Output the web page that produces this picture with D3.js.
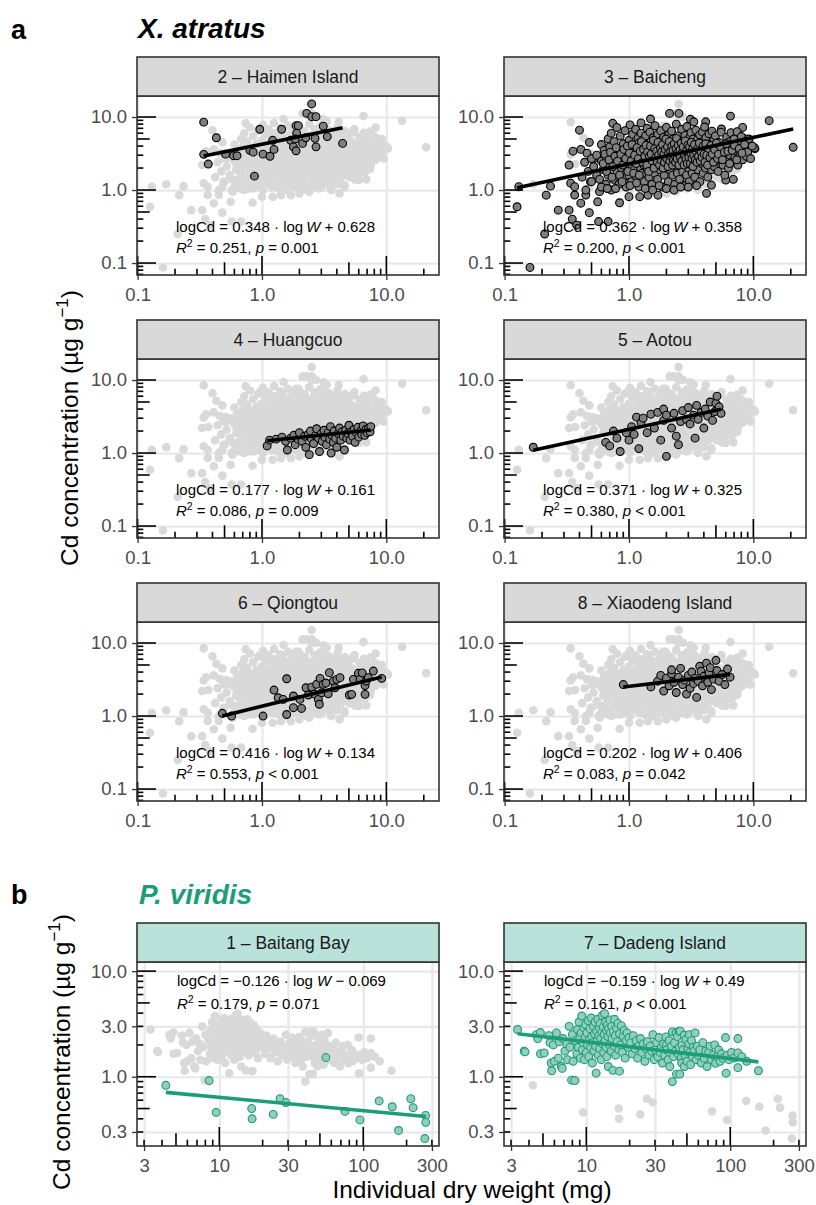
<!DOCTYPE html>
<html><head><meta charset="utf-8">
<script src="https://cdn.jsdelivr.net/npm/d3@7"></script>
<style>body{margin:0;background:#fff}svg{display:block}</style>
</head><body><svg id="c" width="816" height="1205"></svg>
<script>
// ---------------- DATA ----------------
// [individual dry weight, Cd concentration]
const haimen = [[0.34,8.5],[0.34,3.08],[0.37,2.27],[0.43,5.2],[0.51,3.1],[0.59,2.95],[0.63,2.95],[0.80,3.5],[0.85,3.3],[0.87,1.55],[0.96,6.8],[1.02,3.1],[1.16,2.9],[1.22,4.8],[1.25,3.6],[1.44,6.8],[1.70,4.8],[1.79,3.9],[1.88,3.45],[1.88,7.6],[1.96,7.6],[1.90,6.0],[2.12,4.35],[2.29,11.2],[2.51,15.1],[2.51,10.1],[2.72,10.1],[2.67,5.1],[2.72,3.9],[3.11,7.5],[3.35,5.4],[4.45,4.35],[2.25,5.2],[1.85,5.0]];
const baicheng = [[0.126,0.59],[0.16,0.087],[0.13,1.11],[0.21,0.25],[0.216,0.85],[0.234,1.13],[0.27,0.53],[0.33,0.53],[0.35,0.40],[0.38,0.33],[0.33,2.2],[0.34,1.24],[0.355,3.4],[0.40,6.6],[0.41,3.6],[0.366,1.11],[0.366,0.855],[0.41,0.66],[0.45,0.855],[0.48,0.49],[0.52,2.7],[0.56,0.69],[0.57,0.37],[0.68,0.37],[0.74,8.2],[0.84,0.67],[0.98,1.24],[1.0,0.81],[1.22,0.81],[1.42,0.85],[1.49,9.4],[1.71,0.85],[2.12,11.2],[2.52,11.2],[2.86,1.45],[3.12,9.3],[3.48,1.37],[4.14,8.6],[4.2,0.90],[4.6,1.17],[5.54,6.85],[6.0,1.37],[6.55,10.3],[6.87,2.7],[8.2,7.2],[8.4,5.1],[10.3,3.7],[10.2,3.8],[13.4,8.9],[20.9,3.85],
[0.42,1.5],[0.44,2.4],[0.45,1.0],[0.46,3.2],[0.47,1.8],[0.48,4.5],[0.49,1.3],[0.5,2.7],
[0.5,1.3],[0.52,2.1],[0.55,1.6],[0.55,3.0],[0.58,0.95],[0.6,2.5],[0.6,4.2],[0.62,1.9],[0.63,3.5],[0.65,1.2],[0.66,2.8],[0.68,5.0],[0.68,1.6],[0.7,2.2],[0.7,3.9],[0.72,1.0],[0.72,6.0],
[0.75,1.4],[0.75,2.6],[0.76,4.6],[0.78,3.2],[0.8,1.8],[0.8,7.2],[0.82,2.3],[0.83,1.2],[0.85,3.7],[0.85,5.5],[0.87,2.0],[0.88,2.9],[0.9,1.5],[0.9,4.3],[0.92,2.5],[0.93,6.5],[0.95,3.3],[0.95,1.1],[0.96,2.0],
[1.0,1.6],[1.0,2.8],[1.0,4.8],[1.02,7.8],[1.03,3.6],[1.05,2.2],[1.05,1.3],[1.07,5.8],[1.08,3.1],[1.1,1.9],[1.1,4.1],[1.12,2.6],[1.13,6.8],[1.15,1.5],[1.15,3.4],[1.17,2.3],[1.18,5.1],[1.2,1.1],[1.2,2.9],[1.2,4.4],[1.22,3.8],[1.24,2.0],[1.25,8.3],[1.25,6.0],[1.27,2.6],[1.28,1.7],[1.3,3.2],[1.3,4.9],
[1.32,2.2],[1.33,1.3],[1.35,3.7],[1.36,5.5],[1.38,2.7],[1.4,1.9],[1.4,7.0],[1.42,4.2],[1.43,3.0],[1.45,2.4],[1.45,1.5],[1.47,6.2],[1.48,3.5],[1.5,2.0],[1.5,4.6],[1.52,2.8],[1.53,1.2],[1.55,3.9],[1.56,5.2],[1.58,2.3],[1.6,3.3],[1.6,1.7],[1.62,7.6],[1.63,2.6],[1.65,4.4],[1.66,3.0],[1.68,2.1],[1.7,5.8],[1.7,1.4],[1.72,3.6],[1.74,2.5],[1.75,4.0],[1.77,1.9],[1.78,3.2],[1.8,6.5],[1.8,2.8],
[1.82,4.8],[1.84,2.2],[1.85,1.1],[1.87,3.5],[1.9,2.6],[1.9,5.3],[1.92,1.6],[1.94,3.9],[1.95,3.0],[1.97,2.0],[2.0,4.4],[2.0,7.2],[2.02,2.4],[2.05,3.3],[2.07,1.3],[2.1,5.8],[2.1,2.8],[2.12,3.7],[2.15,1.9],[2.17,4.2],[2.2,2.3],[2.2,6.4],[2.22,3.1],[2.25,1.6],[2.27,5.0],[2.3,2.7],[2.3,3.8],[2.33,1.2],[2.35,4.6],[2.38,2.1],[2.4,3.4],[2.4,8.0],[2.42,2.9],[2.45,1.7],[2.47,5.5],[2.5,2.5],[2.5,3.9],
[2.55,1.4],[2.55,4.8],[2.6,3.1],[2.62,2.2],[2.65,6.8],[2.68,3.6],[2.7,1.8],[2.72,2.7],[2.75,4.3],[2.78,1.15],[2.8,3.3],[2.82,5.6],[2.85,2.4],[2.88,3.9],[2.9,1.6],[2.92,7.4],[2.95,2.9],[3.0,4.7],[3.0,2.0],[3.02,3.4],[3.05,1.3],[3.08,5.2],[3.1,2.6],[3.12,3.7],[3.15,6.1],[3.18,2.2],[3.2,4.1],[3.22,1.7],[3.25,3.0],[3.28,5.0],[3.3,2.5],[3.32,8.6],[3.35,3.5],[3.38,1.5],[3.4,4.4],[3.42,2.8],[3.45,6.6],[3.48,2.1],
[3.5,3.2],[3.55,4.9],[3.6,1.9],[3.6,2.6],[3.65,3.8],[3.7,5.7],[3.72,1.3],[3.75,3.0],[3.8,4.3],[3.85,2.3],[3.9,6.2],[3.92,3.4],[3.95,1.7],[4.0,2.8],[4.0,4.7],[4.05,7.3],[4.1,3.6],[4.12,2.0],[4.15,5.2],[4.2,2.6],[4.25,3.9],[4.3,1.5],[4.35,3.1],[4.4,5.9],[4.45,2.3],[4.5,4.2],[4.55,3.3],[4.6,1.9],[4.65,6.4],[4.7,2.7],[4.75,3.7],[4.8,4.9],[4.85,2.1],[4.9,3.0],[4.95,5.5],[5.0,2.5],
[5.1,3.5],[5.2,1.8],[5.3,4.5],[5.4,2.9],[5.5,6.2],[5.6,3.2],[5.7,2.2],[5.8,4.0],[5.9,1.6],[6.0,3.6],[6.1,5.3],[6.2,2.6],[6.3,2.0],[6.4,4.6],[6.5,3.0],[6.6,6.1],[6.7,2.4],[6.8,3.8],[6.9,1.4],[7.0,5.0],[7.1,2.8],[7.2,3.4],[7.4,6.3],[7.5,2.2],[7.6,4.2],[7.8,3.0],[8.0,5.4],[8.2,2.6],[8.4,3.6],[8.6,4.6],[8.8,2.9],[9.0,3.3],[9.2,5.0],[9.5,2.7],[9.8,4.0],
[0.62,2.3],[0.64,3.1],[0.66,1.8],[0.69,2.6],[0.71,3.3],[0.73,1.5],[0.74,2.1],[0.77,2.9],[0.79,3.8],[0.81,2.5],[0.84,1.6],[0.86,3.1],[0.89,2.2],[0.91,3.6],[0.94,2.7],[0.97,4.0],[0.98,1.8],[1.01,3.2],[1.04,2.5],[1.06,4.2],[1.09,1.7],[1.11,3.0],[1.14,2.3],[1.16,3.8],[1.19,2.7],[1.21,1.6],[1.23,3.4],[1.26,4.6],[1.29,2.4],[1.31,3.6],[1.34,2.9],[1.37,4.1],[1.39,2.2],[1.41,3.3],[1.44,1.8],[1.46,2.9],[1.49,4.0],[1.51,3.1],[1.54,2.5],[1.57,4.8],[1.59,2.0],[1.61,3.7],[1.64,2.8],[1.67,3.4],[1.69,2.4],[1.71,4.5],[1.73,3.0],[1.76,2.2],[1.79,3.8],[1.81,2.6],[1.83,3.3],[1.86,4.2],[1.88,2.0],[1.91,3.1],[1.93,2.4],[1.96,3.6],[1.98,5.0],[2.01,2.7],[2.04,3.9],[2.06,2.1],[2.08,3.2],[2.11,4.6],[2.13,2.5],[2.16,3.4],[2.18,2.9],[2.21,4.0],[2.24,2.2],[2.26,3.5],[2.28,2.6],[2.31,4.3],[2.34,3.0],[2.37,2.4],[2.39,3.7],[2.41,5.1],[2.44,2.7],[2.46,3.2],[2.49,4.1],[2.52,2.2],[2.57,3.5],[2.59,2.8],[2.63,4.4],[2.66,2.5],[2.69,3.3],[2.73,3.9],[2.77,2.2],[2.79,3.0],[2.83,4.7],[2.87,2.7],[2.91,3.5],[2.94,2.3],[2.97,4.1],[3.03,2.8],[3.07,3.9],[3.11,2.3],[3.14,3.2],[3.17,4.5],[3.21,2.7],[3.24,3.6],[3.27,2.1],[3.31,3.0],[3.36,4.2],[3.41,2.6],[3.44,3.4],[3.52,2.4],[3.57,3.7],[3.62,2.9],[3.68,4.4],[3.74,2.5],[3.81,3.3],[3.87,2.8],[3.94,4.0],[4.02,3.1],[4.08,2.4],[4.14,4.3],[4.22,3.0],[4.28,2.2],[4.38,3.7],[4.48,2.8],[4.58,4.1],[4.68,3.1],[4.78,2.4],[4.88,3.6],[5.05,4.4],[5.15,2.7],[5.25,3.1],[5.45,3.9],[5.65,2.6],[5.85,3.3],[6.05,4.3],[6.25,3.4],[6.45,2.3],[6.75,3.5],[7.05,4.1],[7.35,2.6],[7.7,3.7],[8.1,3.2],[8.5,4.2],[0.58,1.4],[0.6,1.1],[0.67,1.05],[0.78,1.05],[0.88,1.3],[1.02,1.15],[1.15,1.25],[1.35,1.05],[1.55,1.0],[1.75,1.15],[2.0,1.05],[2.3,1.0],[2.6,1.1],[3.0,1.1],[3.5,1.15]];
const huangcuo = [[1.1,1.25],[1.15,1.5],[1.3,1.55],[1.45,1.65],[1.55,1.45],[1.6,1.1],[1.7,1.6],[1.8,1.75],[1.85,1.3],[1.95,1.55],[2.0,1.9],[2.1,1.45],[2.2,1.7],[2.25,1.2],[2.35,1.8],[2.4,0.95],[2.45,2.0],[2.5,1.55],[2.6,1.35],[2.7,1.75],[2.75,2.15],[2.85,1.6],[2.9,1.05],[3.0,1.85],[3.05,1.45],[3.15,2.05],[3.2,1.65],[3.3,1.3],[3.4,1.9],[3.5,1.55],[3.55,2.3],[3.6,1.0],[3.65,1.75],[3.75,1.4],[3.8,2.0],[3.9,1.6],[4.0,1.2],[4.1,1.85],[4.2,2.2],[4.3,1.5],[4.4,1.95],[4.5,1.7],[4.6,1.1],[4.7,2.05],[4.8,1.6],[4.9,1.85],[5.0,2.4],[5.1,1.5],[5.2,1.95],[5.35,1.7],[5.5,2.1],[5.6,1.4],[5.75,1.9],[5.9,2.25],[6.0,1.65],[6.2,2.0],[6.35,1.8],[6.5,2.35],[6.7,1.75],[6.85,2.1],[7.0,1.9],[7.2,2.2],[7.4,1.95],[7.5,2.3]];
const aotou = [[0.17,1.2],[0.65,1.4],[0.7,1.25],[0.75,2.0],[0.8,1.6],[0.85,1.05],[0.95,1.9],[1.0,1.5],[1.05,2.3],[1.1,1.8],[1.15,3.1],[1.2,1.15],[1.25,2.6],[1.3,3.0],[1.4,1.9],[1.5,3.4],[1.6,2.2],[1.7,3.6],[1.8,1.5],[1.9,2.8],[1.9,4.0],[2.0,3.3],[2.0,0.9],[2.2,2.2],[2.3,3.5],[2.4,1.7],[2.5,1.3],[2.6,2.7],[2.7,3.8],[2.9,2.9],[3.0,4.2],[3.1,2.5],[3.3,3.3],[3.4,1.6],[3.5,4.5],[3.6,2.9],[3.8,3.6],[4.0,2.2],[4.1,4.0],[4.3,3.2],[4.5,5.0],[4.7,2.8],[4.9,3.7],[5.0,4.8],[5.1,6.0],[5.3,4.3],[5.5,3.5]];
const qiongtou = [[0.48,1.09],[0.57,1.0],[1.02,1.0],[1.25,2.27],[1.35,1.78],[1.48,1.69],[1.58,3.24],[1.58,1.05],[1.79,1.88],[1.79,1.30],[2.08,1.27],[2.02,1.69],[2.26,2.44],[2.36,1.94],[2.51,2.49],[2.65,2.0],[2.75,2.72],[2.84,1.69],[2.89,1.45],[2.93,3.28],[3.02,2.08],[3.11,2.72],[3.27,2.83],[3.41,2.02],[3.48,3.93],[3.75,3.02],[3.86,2.44],[3.99,3.18],[4.24,3.35],[5.04,1.94],[5.26,1.98],[5.43,3.18],[5.96,3.85],[6.14,3.18],[6.4,3.9],[6.74,2.62],[6.87,3.02],[6.74,1.98],[7.16,3.35],[7.86,4.13],[9.18,3.28]];
const xiaodeng = [[0.9,2.7],[1.5,2.5],[1.7,3.0],[1.8,3.6],[1.9,2.2],[2.0,3.3],[2.1,2.6],[2.2,3.8],[2.2,4.3],[2.3,2.9],[2.4,2.1],[2.5,3.4],[2.6,4.5],[2.7,2.7],[2.8,3.1],[2.9,2.0],[3.0,3.6],[3.1,2.4],[3.2,4.0],[3.3,2.8],[3.4,3.3],[3.5,1.8],[3.6,3.0],[3.7,4.8],[3.8,4.1],[3.9,2.6],[4.0,3.5],[4.2,5.3],[4.3,2.9],[4.4,3.9],[4.5,4.6],[4.6,2.3],[4.8,3.2],[5.0,5.8],[5.1,4.2],[5.3,3.0],[5.6,3.7],[5.9,2.7],[6.2,4.4],[6.5,3.4]];
const baitang = [[4.25,0.83],[8.5,0.92],[9.5,0.46],[16.8,0.50],[16.9,0.40],[23.7,0.44],[26.4,0.62],[29,0.57],[55,1.52],[74.7,0.47],[94.8,0.39],[129,0.59],[159,0.52],[176,0.31],[214,0.62],[222,0.51],[271,0.43],[272,0.37],[268,0.26]];
const dadeng = [[3.33,2.8],[3.7,1.75],[3.75,1.72],[4.5,2.5],[4.6,2.3],[4.8,1.65],[4.8,2.62],[5.1,1.68],[5.5,2.45],[5.6,2.1],[5.7,1.35],[5.75,1.14],[5.9,2.0],[6.0,1.4],[6.2,2.6],[6.4,1.5],[6.5,2.15],[6.7,1.25],[6.8,1.2],[6.9,2.3],[7.1,1.75],[7.3,2.05],[7.4,1.45],[7.6,3.0],[7.7,1.9],[7.9,0.93],[8.0,2.5],[8.1,1.4],[8.3,0.92],[8.4,2.2],
[8.6,1.65],[8.7,2.8],[8.8,1.9],[8.9,3.3],[9.0,2.3],[9.1,1.5],[9.2,2.6],[9.3,3.76],[9.4,1.8],[9.5,2.1],[9.6,2.9],[9.7,1.45],[9.8,2.4],[9.9,3.1],[10.0,1.7],[10.1,2.6],[10.2,2.0],[10.3,3.4],[10.4,1.55],[10.5,2.25],[10.6,2.85],[10.7,1.9],[10.8,3.6],[10.9,2.4],[11.0,1.35],[11.1,2.1],[11.2,3.0],[11.3,1.75],[11.4,2.55],[11.5,3.3],[11.6,1.95],[11.7,1.08],[11.8,2.7],[11.9,2.2],[12.0,3.5],[12.1,1.6],[12.2,2.45],[12.3,2.9],[12.4,1.85],[12.5,3.2],[12.6,2.3],[12.7,1.45],[12.8,2.65],[12.9,3.8],[13.0,2.05],[13.1,2.95],[13.2,1.7],[13.3,2.5],[13.4,3.96],[13.5,2.2],[13.6,3.3],[13.7,1.9],[13.8,2.75],[13.9,1.55],[14.0,3.1],[14.1,2.4],[14.2,1.25],[14.3,2.85],[14.5,2.0],[14.6,3.45],[14.7,2.6],[14.9,1.75],[15.0,3.0],[15.1,2.3],[15.3,1.15],[15.4,2.7],[15.6,1.95],[15.7,3.5],[15.9,2.45],[16.0,1.6],[16.2,2.9],[16.4,2.15],[16.6,3.2],[16.8,1.8],[17.0,1.13],[17.0,2.55],[17.3,2.0],[17.5,3.05],[17.8,1.7],[18.0,2.4],[18.3,2.75],[18.6,1.5],[18.9,2.2],[19.2,2.6],[19.5,1.9],[19.8,2.35],
[20.3,2.1],[20.8,1.65],[21.2,2.45],[21.7,1.85],[22.2,2.2],[22.7,1.5],[23.2,1.95],[23.8,2.3],[24.3,1.7],[24.9,2.05],[25.5,1.4],[26.0,1.85],[26.6,2.15],[27.2,1.6],[27.8,1.95],[28.4,1.75],[29.0,2.5],[29.6,1.45],[30.2,1.8],[30.8,2.1],[31.4,1.55],[32.0,2.35],[32.6,1.7],[33.2,1.9],[33.8,1.35],
[34.4,2.05],[35.0,1.6],[35.7,2.38],[36.0,2.0],[36.3,1.8],[37.0,1.45],[37.6,2.2],[38.0,1.25],[38.3,1.7],[39.0,1.95],[39.6,2.66],[39.6,0.9],[40.3,1.55],[41.0,2.1],[41.6,1.75],[42.0,2.6],[42.3,1.06],[42.9,2.4],[43.6,1.65],[44.0,2.7],[44.3,1.9],[44.6,1.06],[45.0,2.7],[45.6,1.5],[46.0,1.35],[46.3,2.0],[47.0,1.8],[47.8,2.47],[48.0,1.25],[48.5,1.6],[49.2,2.25],[50.0,1.4],[50.7,1.85],[51.5,2.05],[52.0,2.5],[52.3,1.7],[53.0,1.3],[53.8,2.2],[54.6,1.55],[55.4,1.9],[56.2,1.75],[57.0,2.6],[58.0,1.45],[59.0,1.95],[60.0,1.6],
[61.5,1.8],[63.0,1.35],[64.5,2.1],[66.0,1.5],[67.5,1.75],[69.0,1.25],[71.0,1.72],[72.5,1.95],[74.0,1.45],[76.0,1.6],[78.0,2.0],[79.0,1.34],[81.0,1.55],[83.0,1.8],[85.0,1.4],[87.0,1.65],[89.0,1.5],[92.7,2.35],[93.5,1.08],[95.0,1.6],[98.0,1.45],[102.0,1.7],[106.0,1.5],[113.0,2.3],[113.0,1.68],[113.0,1.22],[120.0,1.55],[130.0,1.4],[157.0,1.14]];

const siteNamesA = ["2 – Haimen Island","3 – Baicheng","4 – Huangcuo","5 – Aotou","6 – Qiongtou","8 – Xiaodeng Island"];
const slopesA = [0.348,0.362,0.177,0.371,0.416,0.202];
const interceptsA = [0.628,0.358,0.161,0.325,0.134,0.406];
const r2A = ["0.251","0.200","0.086","0.380","0.553","0.083"];
const pRelA = ["=","<","=","<","<","="];
const pValA = ["0.001","0.001","0.009","0.001","0.001","0.042"];

const siteNamesB = ["1 – Baitang Bay","7 – Dadeng Island"];
const slopesB = [-0.126,-0.159];
const interceptsB = [-0.069,0.49];
const r2B = ["0.179","0.161"];
const pRelB = ["=","<"];
const pValB = ["0.071","0.001"];

const xBreaksA = [0.1,1,10], xLabelsA = ["0.1","1.0","10.0"];
const yBreaksA = [0.1,1,10], yLabelsA = ["0.1","1.0","10.0"];
const xBreaksB = [3,10,30,100,300], xLabelsB = ["3","10","30","100","300"];
const yBreaksB = [0.3,1,3,10], yLabelsB = ["0.3","1.0","3.0","10.0"];

// ---------------- LAYOUT ----------------
const FONT = "'Liberation Sans', Arial, Helvetica, sans-serif";
const TEAL = "#1b9e77";
const svg = d3.select("#c").attr("font-family", FONT);
const colX = [137, 504], panelW = 302, stripH = 39;
const fmt = v => (v < 0 ? "\u2212" : "") + String(Math.abs(v));

function drawPanel(o) {
  const g = svg.append("g");
  const pTop = o.top + stripH, pBot = pTop + o.plotH, L = o.left, R = o.left + panelW;
  const x = d3.scaleLog().domain(o.xDomain).range([L, R]);
  const y = d3.scaleLog().domain(o.yDomain).range([pBot, pTop]);
  svg.append("clipPath").attr("id", "clip" + o.id).append("rect")
    .attr("x", L).attr("y", pTop).attr("width", panelW).attr("height", o.plotH);
  // grid
  const gx = g.append("g").attr("transform", `translate(0,${pBot})`)
    .call(d3.axisBottom(x).tickValues(o.xBreaks).tickSize(-o.plotH).tickFormat(""));
  const gy = g.append("g").attr("transform", `translate(${L},0)`)
    .call(d3.axisLeft(y).tickValues(o.yBreaks).tickSize(-panelW).tickFormat(""));
  [gx, gy].forEach(a => { a.select(".domain").remove(); a.selectAll("line").attr("stroke", "#e8e8e8").attr("stroke-width", 2.2); });
  // points
  const pg = g.append("g").attr("clip-path", `url(#clip${o.id})`);
  pg.selectAll(null).data(o.bg).enter().append("circle")
    .attr("cx", d => x(d[0])).attr("cy", d => y(d[1])).attr("r", 4.3).attr("fill", "#d9d9d9");
  pg.selectAll(null).data(o.pts).enter().append("circle")
    .attr("cx", d => x(d[0])).attr("cy", d => y(d[1])).attr("r", 3.9)
    .attr("fill", o.ptFill).attr("stroke", o.ptStroke).attr("stroke-width", 1.1);
  // regression line
  const ext = d3.extent(o.pts, d => d[0]);
  const lineData = ext.map(w => [w, Math.pow(10, o.slope * Math.log10(w) + o.intercept)]);
  pg.append("path").datum(lineData)
    .attr("d", d3.line().x(d => x(d[0])).y(d => y(d[1])))
    .attr("stroke", o.lineColor).attr("stroke-width", 3.6).attr("fill", "none");
  // annotation
  const ax0 = L + o.annDx;
  const t1 = g.append("text").attr("x", ax0).attr("y", pTop + o.annDy1).attr("font-size", 15).attr("fill", "#000");
  t1.append("tspan").text(`logCd = ${fmt(o.slope)} \u00B7 log${o.logSpace ? " " : "\u2009"}`);
  t1.append("tspan").attr("font-style", "italic").text("W");
  t1.append("tspan").text(` ${o.intercept < 0 ? "\u2212" : "+"} ${String(Math.abs(o.intercept))}`);
  const t2 = g.append("text").attr("x", ax0).attr("y", pTop + o.annDy2).attr("font-size", 15).attr("fill", "#000");
  t2.append("tspan").attr("font-style", "italic").text("R");
  t2.append("tspan").attr("font-size", 10.5).attr("dy", -6).text("2");
  t2.append("tspan").attr("dy", 6).text(` = ${o.r2}, `);
  t2.append("tspan").attr("font-style", "italic").text("p");
  t2.append("tspan").text(` ${o.pRel} ${o.pVal}`);
  // log ticks (annotation_logticks style)
  const tickLen = t => { const m = Math.round(t / Math.pow(10, Math.floor(Math.log10(t) + 1e-9))); return m === 1 ? 19 : m === 5 ? 12.7 : 6.3; };
  g.selectAll(null).data(x.ticks()).enter().append("line")
    .attr("x1", d => x(d)).attr("x2", d => x(d)).attr("y1", pBot).attr("y2", d => pBot - tickLen(d))
    .attr("stroke", "#000").attr("stroke-width", 1.6);
  g.selectAll(null).data(y.ticks()).enter().append("line")
    .attr("y1", d => y(d)).attr("y2", d => y(d)).attr("x1", L).attr("x2", d => L + tickLen(d))
    .attr("stroke", "#000").attr("stroke-width", 1.6);
  // border
  g.append("rect").attr("x", L).attr("y", pTop).attr("width", panelW).attr("height", o.plotH)
    .attr("fill", "none").attr("stroke", "#333").attr("stroke-width", 1.6);
  // axes
  const axB = g.append("g").attr("transform", `translate(0,${pBot})`)
    .call(d3.axisBottom(x).tickValues(o.xBreaks).tickFormat((d, i) => o.xLabels[i]).tickSize(5).tickPadding(8));
  const axL = g.append("g").attr("transform", `translate(${L},0)`)
    .call(d3.axisLeft(y).tickValues(o.yBreaks).tickFormat((d, i) => o.yLabels[i]).tickSize(5).tickPadding(5));
  [axB, axL].forEach(a => {
    a.attr("font-family", FONT).attr("font-size", 18.5);
    a.select(".domain").remove();
    a.selectAll("line").attr("stroke", "#333").attr("stroke-width", 1.3);
    a.selectAll("text").attr("fill", "#4d4d4d");
  });
  // strip
  g.append("rect").attr("x", L).attr("y", o.top).attr("width", panelW).attr("height", stripH)
    .attr("fill", o.stripFill).attr("stroke", "#333").attr("stroke-width", 1.6);
  g.append("text").attr("x", L + panelW / 2).attr("y", o.top + stripH / 2 + 6.3)
    .attr("text-anchor", "middle").attr("font-size", 17.5).attr("fill", "#1a1a1a").text(o.name);
}

// ---------- panel a ----------
const sitesA = [haimen, baicheng, huangcuo, aotou, qiongtou, xiaodeng];
const allA = sitesA.flat();
const rowTopA = [57, 320, 583];
sitesA.forEach((pts, i) => {
  drawPanel({
    id: "a" + i, left: colX[i % 2], top: rowTopA[Math.floor(i / 2)], plotH: 179,
    xDomain: [0.0989, 26.5], yDomain: [0.0686, 19.4],
    xBreaks: xBreaksA, xLabels: xLabelsA, yBreaks: yBreaksA, yLabels: yLabelsA,
    bg: allA, pts: pts, ptFill: "#7f7f7f", ptStroke: "#000", lineColor: "#000",
    slope: slopesA[i], intercept: interceptsA[i], logSpace: false,
    r2: r2A[i], pRel: pRelA[i], pVal: pValA[i], annDx: 39, annDy1: 136, annDy2: 157,
    stripFill: "#d9d9d9", name: siteNamesA[i]
  });
});

// ---------- panel b ----------
const sitesB = [baitang, dadeng];
const allB = sitesB.flat();
sitesB.forEach((pts, i) => {
  drawPanel({
    id: "b" + i, left: colX[i], top: 923, plotH: 184,
    xDomain: [2.68, 336], yDomain: [0.221, 12.2],
    xBreaks: xBreaksB, xLabels: xLabelsB, yBreaks: yBreaksB, yLabels: yLabelsB,
    bg: allB, pts: pts, ptFill: "#93cdbb", ptStroke: TEAL, lineColor: TEAL,
    slope: slopesB[i], intercept: interceptsB[i], logSpace: true,
    r2: r2B[i], pRel: pRelB[i], pVal: pValB[i], annDx: 40, annDy1: 24, annDy2: 47,
    stripFill: "#b9e2da", name: siteNamesB[i]
  });
});

// ---------- titles ----------
svg.append("text").attr("x", 11).attr("y", 39).attr("font-size", 27).attr("font-weight", "bold").text("a");
svg.append("text").attr("x", 138).attr("y", 38).attr("font-size", 28).attr("font-weight", "bold").attr("font-style", "italic").text("X. atratus");
svg.append("text").attr("x", 11).attr("y", 904).attr("font-size", 27).attr("font-weight", "bold").text("b");
svg.append("text").attr("x", 139).attr("y", 904).attr("font-size", 28).attr("font-weight", "bold").attr("font-style", "italic").attr("fill", TEAL).text("P. viridis");

function yTitle(xb, yc) {
  const t = svg.append("text").attr("transform", `translate(${xb},${yc}) rotate(-90)`)
    .attr("text-anchor", "middle").attr("font-size", 24.5).attr("fill", "#000");
  t.append("tspan").text("Cd concentration (\u00B5g g");
  t.append("tspan").attr("font-size", 17).attr("dy", -10).text("\u22121");
  t.append("tspan").attr("dy", 10).text(")");
}
yTitle(78, 428);
yTitle(70, 1052);
svg.append("text").attr("x", 472).attr("y", 1198).attr("text-anchor", "middle").attr("font-size", 24.5).attr("fill", "#000").text("Individual dry weight (mg)");
</script></body></html>
